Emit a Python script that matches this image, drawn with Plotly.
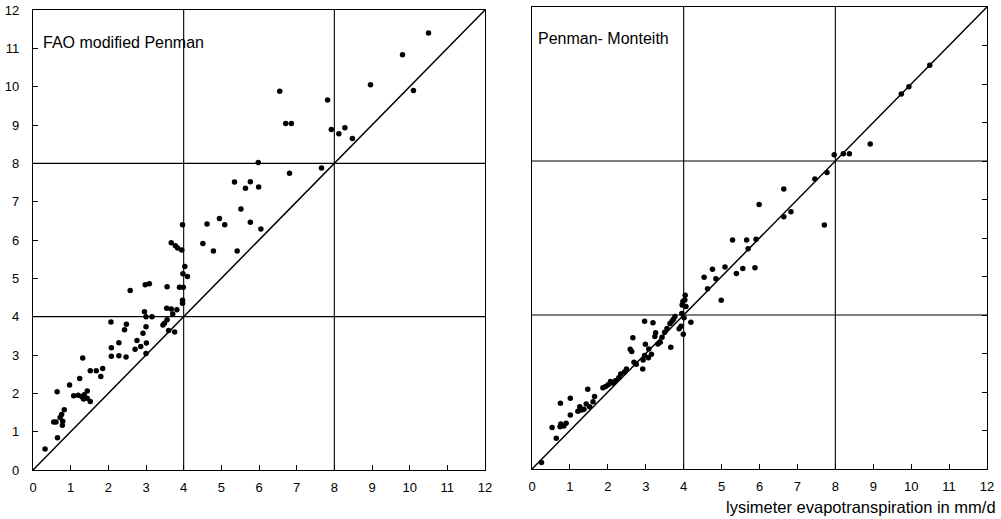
import plotly.graph_objects as go

# ---------------- data ----------------
AXIS_MAX = 12
TICKS = list(range(0, 13))
GRID_AT = [4, 8]
ONE_TO_ONE = [0, 12]

TITLE_LEFT = "FAO modified Penman"
TITLE_RIGHT = "Penman- Monteith"
X_TITLE = "lysimeter evapotranspiration in mm/d"

fao_x = [10.5, 9.81, 8.96, 10.1, 6.55, 7.82, 6.71, 6.86, 7.92, 8.12, 8.28, 8.48,
         5.98, 7.66, 6.81, 5.35, 5.77, 5.64, 5.99, 5.52, 4.62, 4.95, 5.09, 5.77,
         6.05, 3.97, 4.51, 4.79, 5.42, 3.95, 4.03, 4.10,
         3.67, 3.78, 3.84, 3.98, 2.58, 2.98, 3.09, 3.56, 3.89, 3.99, 3.97, 3.97,
         3.55, 3.67, 3.82, 3.71, 2.96, 3.0, 3.16, 2.07, 2.48, 2.43, 3.56, 3.49,
         3.45, 3.0, 2.92, 3.6, 3.76, 2.28, 2.08, 2.76, 2.86, 3.01, 2.71, 2.08,
         2.28, 2.47, 3.0, 1.32, 1.52, 1.68, 1.85, 1.8, 1.24, 0.97, 0.64, 1.08,
         1.2, 1.3, 1.36, 1.44, 1.34, 1.44, 1.52, 0.83, 0.76, 0.72, 0.79, 0.78,
         0.55, 0.61, 0.65, 0.32]
fao_y = [11.4, 10.83, 10.05, 9.9, 9.88, 9.65, 9.04, 9.04, 8.88, 8.77, 8.93, 8.65,
         8.02, 7.88, 7.74, 7.51, 7.52, 7.35, 7.38, 6.81, 6.42, 6.56, 6.40, 6.46,
         6.29, 6.40, 5.91, 5.71, 5.71, 5.74, 5.31, 5.05,
         5.93, 5.85, 5.79, 5.12, 4.68, 4.83, 4.86, 4.78, 4.77, 4.77, 4.43, 4.35,
         4.22, 4.20, 4.18, 4.07, 4.13, 4.0, 4.0, 3.86, 3.8, 3.66, 3.92, 3.83,
         3.78, 3.74, 3.57, 3.64, 3.6, 3.32, 3.19, 3.38, 3.22, 3.31, 3.15, 2.97,
         2.98, 2.95, 3.04, 2.92, 2.59, 2.59, 2.65, 2.44, 2.39, 2.22, 2.04, 1.94,
         1.95, 1.91, 1.96, 2.06, 1.85, 1.87, 1.79, 1.57, 1.45, 1.37, 1.27, 1.17,
         1.25, 1.25, 0.84, 0.55]

pm_x = [10.49, 9.74, 9.94, 8.92, 7.97, 8.21, 8.37, 7.46, 7.78, 6.64, 5.99, 6.64,
        6.83, 7.71, 5.29, 5.66, 5.91, 5.7, 4.76, 5.09, 4.54, 5.56, 5.39, 5.88,
        4.85, 4.63, 4.99, 4.04, 3.98, 4.06, 3.95, 4.01, 4.19, 3.99, 4.03, 3.96,
        3.88, 3.93, 3.66, 2.97, 3.19, 3.77, 3.73, 3.69, 3.64, 3.56, 3.5, 3.43,
        3.38, 3.32, 3.26, 3.24, 2.66, 2.99, 3.08, 3.15, 3.07, 2.97, 2.93, 2.92,
        2.59, 2.63, 2.69, 2.75, 2.49, 2.44, 2.34, 2.29, 2.2, 2.14, 2.07, 2.01,
        1.94, 1.87, 1.47, 1.65, 1.61, 1.52, 1.43, 1.37, 1.26, 1.31, 1.21, 1.01,
        0.75, 1.01, 0.9, 0.84, 0.74, 0.76, 0.53, 0.64, 0.25]
pm_y = [10.49, 9.74, 9.93, 8.44, 8.16, 8.19, 8.19, 7.53, 7.70, 7.27, 6.87, 6.55,
        6.68, 6.34, 5.95, 5.95, 5.97, 5.72, 5.19, 5.25, 4.98, 5.21, 5.08, 5.23,
        4.94, 4.68, 4.38, 4.51, 4.35, 4.22, 4.04, 3.93, 3.81, 3.5, 4.39, 4.26,
        3.64, 3.71, 3.16, 3.84, 3.8, 3.96, 3.89, 3.84, 3.78, 3.65, 3.55, 3.42,
        3.29, 3.25, 3.54, 3.44, 3.41, 3.24, 3.12, 2.98, 2.89, 2.95, 2.83, 2.6,
        3.11, 3.05, 2.77, 2.72, 2.6, 2.52, 2.47, 2.37, 2.29, 2.23, 2.27, 2.19,
        2.14, 2.11, 2.07, 1.88, 1.75, 1.62, 1.69, 1.55, 1.62, 1.53, 1.5, 1.84,
        1.71, 1.4, 1.19, 1.12, 1.1, 1.17, 1.08, 0.8, 0.17]

# ---------------- figure ----------------
W, H = 1001, 519
FONT = "Liberation Sans, Arial, Helvetica, sans-serif"


def px(v):
    return min(1.0, max(0.0, v / W))


def py(v):
    return min(1.0, max(0.0, 1 - v / H))


fig = go.Figure()

marker = dict(color="black", size=5.5)
line = dict(color="black", width=1.5)

fig.add_trace(go.Scatter(x=fao_x, y=fao_y, mode="markers", marker=marker,
                         xaxis="x", yaxis="y", showlegend=False))
fig.add_trace(go.Scatter(x=ONE_TO_ONE, y=ONE_TO_ONE, mode="lines", line=line,
                         xaxis="x", yaxis="y", showlegend=False))
fig.add_trace(go.Scatter(x=pm_x, y=pm_y, mode="markers", marker=marker,
                         xaxis="x2", yaxis="y2", showlegend=False))
fig.add_trace(go.Scatter(x=ONE_TO_ONE, y=ONE_TO_ONE, mode="lines", line=line,
                         xaxis="x2", yaxis="y2", showlegend=False))


def ax(domain, anchor, side=None, labels=True, standoff=6):
    d = dict(domain=domain, anchor=anchor, range=[0, AXIS_MAX],
             tickvals=TICKS, ticktext=[str(t) for t in TICKS],
             ticks="inside", ticklen=5, tickwidth=1, tickcolor="black",
             showline=True, linecolor="black", linewidth=1.3, mirror=True,
             showgrid=False, zeroline=False, automargin=False,
             showticklabels=labels, ticklabelstandoff=standoff,
             tickfont=dict(family=FONT, size=13, color="black"))
    if side:
        d["side"] = side
    return d


fig.update_layout(
    width=W, height=H,
    margin=dict(l=0, r=0, t=0, b=0, autoexpand=False),
    paper_bgcolor="white", plot_bgcolor="white",
    font=dict(family=FONT, color="black"),
    xaxis=ax([px(33), px(485)], "y", standoff=5),
    yaxis=ax([py(470), py(10)], "x", standoff=10),
    xaxis2=ax([px(532), px(987)], "y2", standoff=5),
    yaxis2=ax([py(469), py(7)], "x2", side="right", labels=False),
)

shapes = []
for xr, yr in (("x", "y"), ("x2", "y2")):
    for g in GRID_AT:
        shapes.append(dict(type="line", xref=xr, yref=yr + " domain", x0=g, x1=g,
                           y0=0, y1=1, line=dict(color="black", width=1.1)))
        shapes.append(dict(type="line", xref=xr + " domain", yref=yr, x0=0, x1=1,
                           y0=g, y1=g, line=dict(color="black", width=1.1)))
fig.update_layout(shapes=shapes)

fig.add_annotation(text=TITLE_LEFT, xref="x", yref="y", x=0.2, y=11.15,
                   xanchor="left", yanchor="middle", showarrow=False,
                   font=dict(family=FONT, size=16, color="black"))
fig.add_annotation(text=TITLE_RIGHT, xref="x2", yref="y2", x=0.1, y=11.17,
                   xanchor="left", yanchor="middle", showarrow=False,
                   font=dict(family=FONT, size=16, color="black"))
fig.add_annotation(text=X_TITLE, xref="paper", yref="paper", x=px(998),
                   y=py(507), xanchor="right", yanchor="middle",
                   showarrow=False, font=dict(family=FONT, size=16.5, color="black"))

# remove the browser's default 8px body margin so the figure fills the window
fig.write_html("out.html",
               config={"displayModeBar": False},
               post_script="document.body.style.margin='0px';"
                           "document.body.style.overflow='hidden';")
